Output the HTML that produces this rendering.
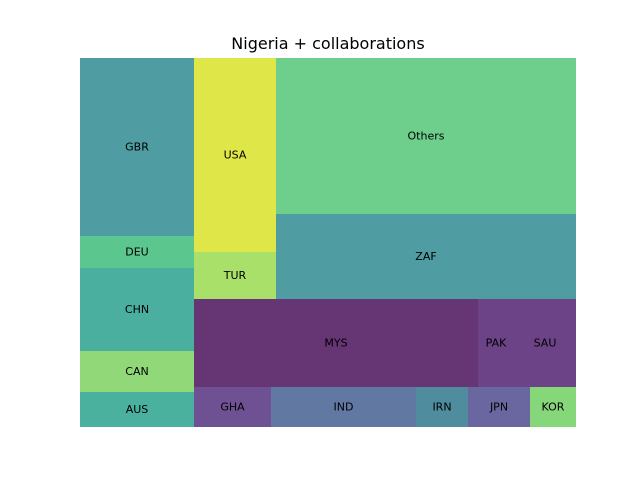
<!DOCTYPE html>
<html><head><meta charset="utf-8"><style>
body{margin:0;background:#fff;width:640px;height:480px;overflow:hidden;font-family:"DejaVu Sans","Liberation Sans",sans-serif}
</style></head><body>
<svg width="640" height="480">
<text x="328" y="49" text-anchor="middle" font-size="16">Nigeria + collaborations</text>
<g id="plot" shape-rendering="crispEdges"></g>
</svg>
<script>
const categories = ["GBR","DEU","CHN","CAN","AUS","USA","TUR","Others","ZAF","MYS","PAK","SAU","GHA","IND","IRN","JPN","KOR"];
const values = [20292,3648,9462,4674,3990,15908,3854,46800,25500,24992,3168,5456,3080,5800,2080,2480,1840];
const colors = ["#4f9da3","#5cc68f","#4aaf9f","#90d878","#4bb19f","#dfe647","#a9e06a","#6dcf8b","#4f9ca3","#663574","#6b4386","#6b4386","#6e5192","#6078a2","#4f8c9e","#6a67a0","#86d67a"];
// layout tree: h = side-by-side, v = stacked; leaves are indices
const tree = {d:"h",c:[{d:"v",c:[0,1,2,3,4]},{d:"v",c:[{d:"h",c:[{d:"v",c:[5,6]},{d:"v",c:[7,8]}]},{d:"h",c:[9,10,11]},{d:"h",c:[12,13,14,15,16]}]}]};
const X0=80,Y0=58,W=496,H=369;
const NS="http://www.w3.org/2000/svg";
const g=document.getElementById("plot");
function total(n){return typeof n==="number"?values[n]:n.c.reduce((s,k)=>s+total(k),0);}
function layout(n,x,y,w,h){
  if(typeof n==="number"){
    const r=document.createElementNS(NS,"rect");
    r.setAttribute("x",x);r.setAttribute("y",y);r.setAttribute("width",w);r.setAttribute("height",h);
    r.setAttribute("fill",colors[n]);
    
    
    g.appendChild(r);
    const t=document.createElementNS(NS,"text");
    t.setAttribute("x",x+w/2);t.setAttribute("y",y+h/2+3.5);t.setAttribute("text-anchor","middle");
    t.setAttribute("font-size","11");t.textContent=categories[n];
    
    
    g.appendChild(t);
    return;
  }
  const T=total(n);let off=0;
  n.c.forEach(k=>{const f=total(k)/T;
    if(n.d==="h"){layout(k,x+off,y,w*f,h);off+=w*f;}
    else{layout(k,x,y+off,w,h*f);off+=h*f;}
  });
}
layout(tree,X0,Y0,W,H);
</script>
</body></html>
